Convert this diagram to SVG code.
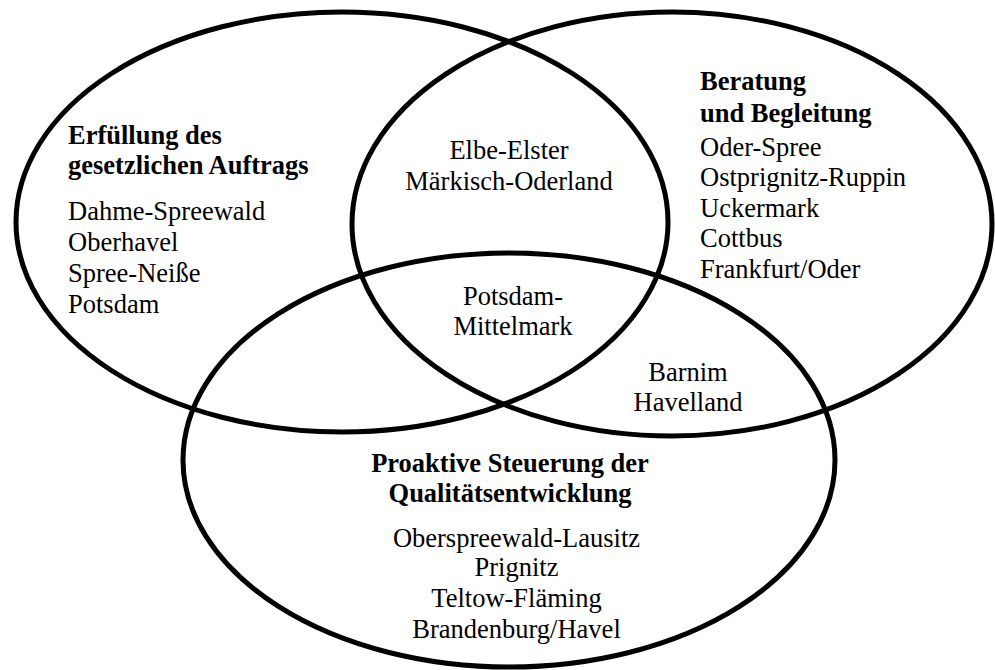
<svg xmlns="http://www.w3.org/2000/svg" width="995" height="670" viewBox="0 0 995 670">
<style>
.e{fill:none;stroke:#000;stroke-width:5}
.t{font-family:"Liberation Serif","Times New Roman",serif;font-size:26.5px;fill:#000}
.b{font-weight:bold}
.c{text-anchor:middle}
</style>
<rect width="995" height="670" fill="#fff"/>
<g id="connectors"></g>
<g id="set-auftrag">
<ellipse class="e" cx="342" cy="222" rx="326" ry="210"/>
<text class="t b" x="68" y="144">Erfüllung des</text>
<text class="t b" x="68" y="174">gesetzlichen Auftrags</text>
<text class="t" x="68" y="220">Dahme-Spreewald</text>
<text class="t" x="68" y="251">Oberhavel</text>
<text class="t" x="68" y="282">Spree-Neiße</text>
<text class="t" x="68" y="313">Potsdam</text>
</g>
<g id="set-beratung">
<ellipse class="e" cx="672" cy="224" rx="320" ry="212"/>
<text class="t b" x="700" y="90">Beratung</text>
<text class="t b" x="700" y="122">und Begleitung</text>
<text class="t" x="700" y="156">Oder-Spree</text>
<text class="t" x="700" y="186">Ostprignitz-Ruppin</text>
<text class="t" x="700" y="217">Uckermark</text>
<text class="t" x="700" y="247">Cottbus</text>
<text class="t" x="700" y="278">Frankfurt/Oder</text>
</g>
<g id="set-proaktiv">
<ellipse class="e" cx="509" cy="460" rx="326" ry="207"/>
<text class="t b c" x="510" y="472">Proaktive Steuerung der</text>
<text class="t b c" x="510" y="502">Qualitätsentwicklung</text>
<text class="t c" x="516.5" y="547">Oberspreewald-Lausitz</text>
<text class="t c" x="516.5" y="576">Prignitz</text>
<text class="t c" x="516.5" y="607">Teltow-Fläming</text>
<text class="t c" x="516.5" y="638">Brandenburg/Havel</text>
</g>
<g id="overlap-auftrag-beratung">
<text class="t c" x="509" y="159">Elbe-Elster</text>
<text class="t c" x="509" y="190">Märkisch-Oderland</text>
</g>
<g id="overlap-all">
<text class="t c" x="513" y="305">Potsdam-</text>
<text class="t c" x="513" y="335">Mittelmark</text>
</g>
<g id="overlap-beratung-proaktiv">
<text class="t c" x="688" y="381">Barnim</text>
<text class="t c" x="688" y="411">Havelland</text>
</g>
</svg>
